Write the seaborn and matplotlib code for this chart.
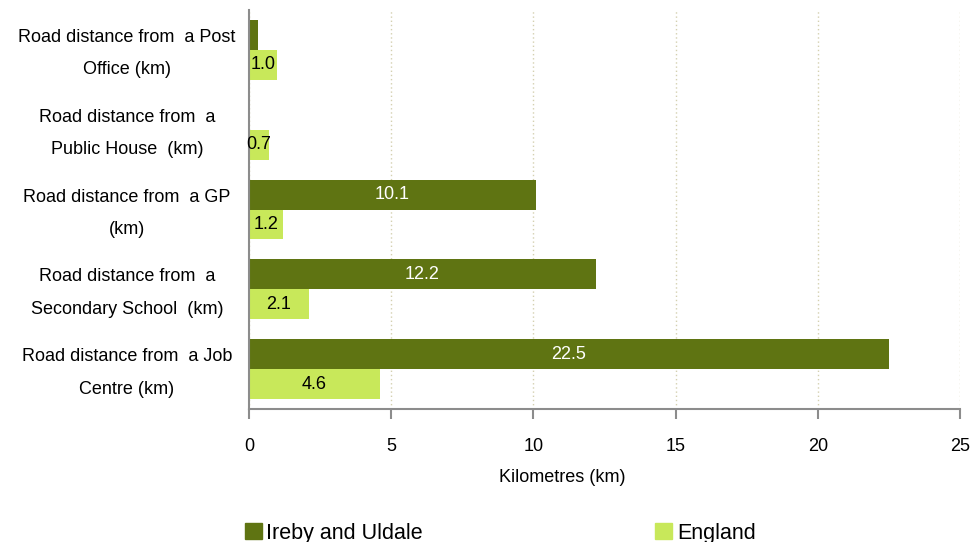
import matplotlib.pyplot as plt
import matplotlib.transforms as mtransforms
import seaborn as sns
import pandas as pd
import numpy as np

categories = [
    'Road distance from  a Post\nOffice (km)',
    'Road distance from  a\nPublic House  (km)',
    'Road distance from  a GP\n(km)',
    'Road distance from  a\nSecondary School  (km)',
    'Road distance from  a Job\nCentre (km)',
]
series = ['Ireby and Uldale', 'England']
ireby = [0.3, np.nan, 10.1, 12.2, 22.5]
england = [1.0, 0.7, 1.2, 2.1, 4.6]
colors = ['#5f7412', '#c8e85a']

records = []
for cat, a, b in zip(categories, ireby, england):
    records.append((cat, series[0], a))
    records.append((cat, series[1], b))
df = pd.DataFrame(records, columns=['category', 'area', 'km'])

sns.set_style('white')
plt.rcParams['font.family'] = ['Liberation Sans', 'DejaVu Sans']
plt.rcParams['text.color'] = 'black'
plt.rcParams['axes.labelcolor'] = 'black'
plt.rcParams['xtick.labelcolor'] = 'black'
plt.rcParams['ytick.labelcolor'] = 'black'

fig = plt.figure(figsize=(9.71, 5.42), dpi=100)
ax = fig.add_axes([249 / 971, 1 - 409 / 542, 711 / 971, 399 / 542])

sns.barplot(data=df, y='category', x='km', hue='area', orient='h',
            palette=colors, width=0.75, ax=ax, legend=False,
            saturation=1, linewidth=0)

# value labels
for cont, col in zip(ax.containers, ['white', 'black']):
    labels = []
    for v in cont.datavalues:
        if np.isnan(v) or v < 0.5:
            labels.append('')
        else:
            labels.append(f'{v:.1f}')
    ax.bar_label(cont, labels=labels, label_type='center', color=col, fontsize=13)

ax.set_xlim(0, 25)
ax.set_xticks([0, 5, 10, 15, 20, 25])
ax.set_ylim(len(categories) - 0.5, -0.5)
ax.set_ylabel('')
ax.set_xlabel('Kilometres (km)', fontsize=13)
ax.xaxis.set_label_coords((562 - 249) / 711, -0.15)

ax.grid(axis='x', linestyle=(0, (1, 2)), color='#d4d0b0', linewidth=1)
ax.set_axisbelow(True)
for s in ['top', 'right']:
    ax.spines[s].set_visible(False)
for s in ['left', 'bottom']:
    ax.spines[s].set_color('#8c8c8c')
    ax.spines[s].set_linewidth(1.5)

ax.set_yticks(range(len(categories)))
ax.set_yticklabels(categories, fontsize=13, ha='center', linespacing=2.2)
ax.tick_params(axis='y', length=0, pad=88)
shift = mtransforms.ScaledTranslation(0, 6 / 100, fig.dpi_scale_trans)
for lab in ax.get_yticklabels():
    lab.set_transform(lab.get_transform() + shift)
ax.set_yticks(np.arange(-0.5, len(categories), 1), minor=True)
ax.tick_params(axis='y', which='minor', length=7, width=1.5, color='#8c8c8c', direction='out')
ax.tick_params(axis='x', length=7, width=1.5, color='#8c8c8c', direction='out',
               labelsize=13, pad=14)
ax.tick_params(axis='x', bottom=True)

handles = [plt.Rectangle((0, 0), 1, 1, color=c) for c in colors]
fig.legend(handles, series, loc='center left', bbox_to_anchor=(236 / 971, 1 - 533 / 542),
           ncol=2, frameon=False, fontsize=15.5, handlelength=0.8, handleheight=0.8,
           handletextpad=0.2, columnspacing=10.8, borderaxespad=0)

fig.savefig('out.png', dpi=100)
